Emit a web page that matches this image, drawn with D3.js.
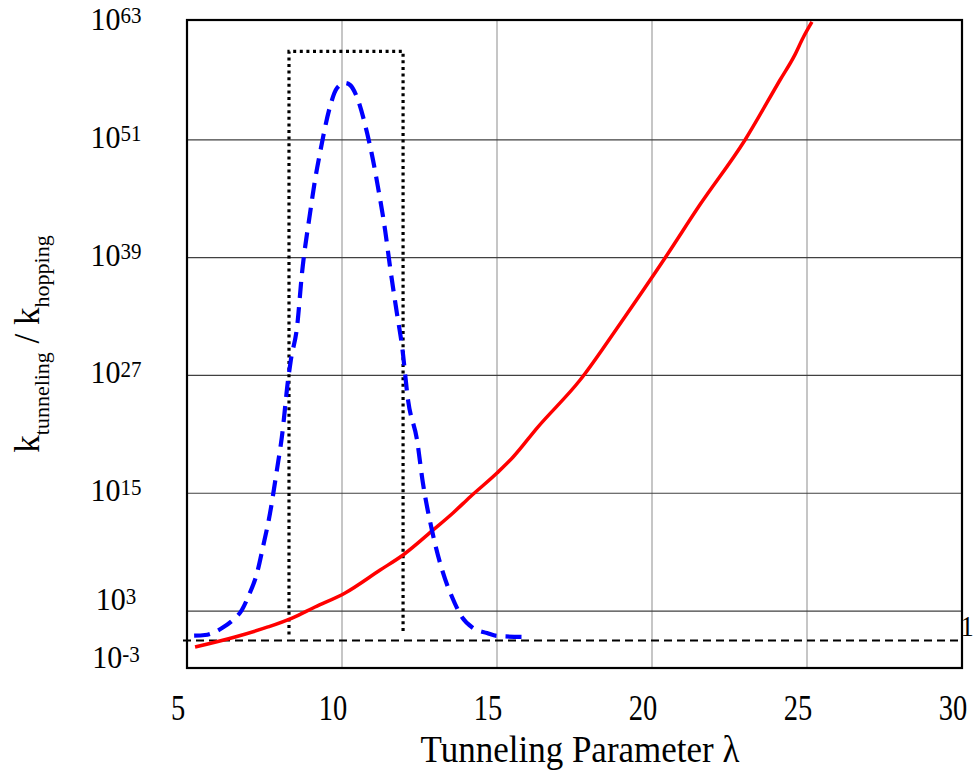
<!DOCTYPE html>
<html>
<head>
<meta charset="utf-8">
<script src="https://cdn.jsdelivr.net/npm/d3@7"></script>
<style>
  html, body { margin: 0; padding: 0; background: #fff; }
  svg { display: block; }
  text { font-family: "Liberation Serif", "Times New Roman", serif; fill: #000; }
</style>
</head>
<body>
<svg id="chart" width="974" height="772"></svg>
<script>
// Tunneling parameter axis ticks and log-axis exponents
const xTicks = [5, 10, 15, 20, 25, 30];
const xGrid = [10, 15, 20, 25];
const yTickExps = [-3, 3, 15, 27, 39, 51, 63];
const yGridExps = [3, 15, 27, 39, 51];

// Ratio curve (solid red): lambda and log10(k_tunneling / k_hopping)
const redLambda = [5.26, 6.55, 7.61, 8.39, 9.13, 10.10, 11.23, 11.97, 12.94, 13.58, 14.13, 15.00, 15.52, 16.29, 17.68, 19.00, 20.42, 21.55, 23.00, 24.13, 24.60, 24.87, 25.16];
const redLog    = [-0.66, 0.36, 1.38, 2.29, 3.41, 4.84, 7.18, 8.71, 11.26, 12.99, 14.62, 17.06, 18.69, 21.64, 26.53, 32.40, 38.96, 44.40, 50.98, 57.09, 59.60, 61.37, 63.00];

// Distribution curve (dashed blue): lambda and log10 value
const blueLambda = [5.23, 5.58, 6.13, 6.48, 6.77, 6.97, 7.26, 7.45, 7.68, 7.90, 8.06, 8.26, 8.35, 8.55, 8.71, 8.97, 9.13, 9.29, 9.39, 9.61, 9.84, 10.10, 10.26, 10.48, 10.81, 11.00, 11.16, 11.39, 11.55, 11.77, 11.94, 12.13, 12.42, 12.61, 12.90, 13.23, 13.55, 13.87, 14.23, 14.68, 15.00, 15.97];
const blueLog    = [0.49, 0.56, 1.27, 2.09, 3.11, 4.43, 6.88, 9.52, 12.99, 17.37, 20.73, 26.53, 28.57, 31.93, 37.43, 43.54, 46.90, 49.65, 51.28, 54.34, 56.27, 56.78, 56.58, 55.36, 51.69, 48.94, 46.19, 41.81, 38.04, 33.36, 29.90, 24.50, 20.42, 16.04, 11.26, 7.18, 4.43, 2.39, 1.27, 0.76, 0.46, 0.36];

// Dotted window: lambda range and log10 range
const windowLambda = [8.29, 11.97];
const windowLog = [0.6, 60.0];

// Reference level k_tunneling = k_hopping
const unityLevel = 1;

const svg = d3.select("#chart");
const plotL = 187, plotR = 962, plotT = 20, plotB = 668;

const x = d3.scaleLinear().domain([5, 30]).range([plotL, plotR]);
const y = d3.scaleLog().domain([Math.pow(10, -2.8), Math.pow(10, 63.2)]).range([plotB, plotT]);
const p = e => Math.pow(10, e);

// grid
svg.append("g").selectAll("line").data(xGrid).join("line")
  .attr("x1", d => x(d)).attr("x2", d => x(d))
  .attr("y1", plotT).attr("y2", plotB)
  .attr("stroke", "#a8a8a8").attr("stroke-width", 1.3);

svg.append("g").selectAll("line").data(yGridExps).join("line")
  .attr("x1", plotL).attr("x2", plotR)
  .attr("y1", d => y(p(d))).attr("y2", d => y(p(d)))
  .attr("stroke", "#404040").attr("stroke-width", 1.2);

// unity reference line
svg.append("line")
  .attr("x1", plotL - 4).attr("x2", plotR)
  .attr("y1", y(unityLevel)).attr("y2", y(unityLevel))
  .attr("stroke", "#000").attr("stroke-width", 2)
  .attr("stroke-dasharray", "8,5");

svg.append("text")
  .attr("transform", `translate(960.5,${y(unityLevel) - 5}) scale(1,1.15)`)
  .attr("text-anchor", "start")
  .attr("font-size", 26.5)
  .text("1");

// dotted window
const win = d3.path();
win.moveTo(x(windowLambda[0]), y(p(windowLog[0])));
win.lineTo(x(windowLambda[0]), y(p(windowLog[1])));
win.lineTo(x(windowLambda[1]), y(p(windowLog[1])));
win.lineTo(x(windowLambda[1]), y(p(windowLog[0])));
svg.append("path")
  .attr("d", win.toString())
  .attr("fill", "none").attr("stroke", "#000")
  .attr("stroke-width", 3.2).attr("stroke-dasharray", "3,3.6");

// curves
const line = d3.line()
  .x(d => x(d[0]))
  .y(d => y(p(d[1])))
  .curve(d3.curveMonotoneX);

svg.append("path")
  .attr("d", line(redLambda.map((l, i) => [l, redLog[i]])))
  .attr("fill", "none").attr("stroke", "#ff0000")
  .attr("stroke-width", 3.5).attr("stroke-linejoin", "round");

svg.append("path")
  .attr("d", line(blueLambda.map((l, i) => [l, blueLog[i]])))
  .attr("fill", "none").attr("stroke", "#0000ff")
  .attr("stroke-width", 4.2).attr("stroke-dasharray", "16,9");

// frame
svg.append("rect")
  .attr("x", plotL).attr("y", plotT)
  .attr("width", plotR - plotL).attr("height", plotB - plotT)
  .attr("fill", "none").attr("stroke", "#000").attr("stroke-width", 2.2);

// x tick labels
svg.append("g").selectAll("text").data(xTicks).join("text")
  .attr("transform", d => `translate(${x(d) - 9},720) scale(1,1.22)`)
  .attr("text-anchor", "middle")
  .attr("font-size", 28.5)
  .text(d => d);

// y tick labels, kept clear of one another near the bottom
let prev = Infinity;
const yLab = yTickExps.slice().sort((a, b) => a - b).map(e => {
  let b = Math.min(y(p(e)) + 8, plotB);
  if (b > prev - 58) b = prev - 58;
  prev = b;
  return { e, b };
});
const yt = svg.append("g").selectAll("text").data(yLab).join("text")
  .attr("transform", d => `translate(116,${d.b}) scale(1,1.08)`)
  .attr("text-anchor", "middle")
  .attr("font-size", 30);
yt.append("tspan").text("10");
yt.append("tspan").attr("font-size", 21).attr("dy", -6)
  .text(d => d.e < 0 ? "-" + Math.abs(d.e) : String(d.e));

// axis titles
svg.append("text")
  .attr("transform", "translate(580,762) scale(1,1.1)")
  .attr("text-anchor", "middle")
  .attr("font-size", 35)
  .text("Tunneling Parameter λ");

const yTitle = svg.append("text")
  .attr("transform", "translate(39,344) rotate(-90)")
  .attr("text-anchor", "middle")
  .attr("font-size", 35);
yTitle.append("tspan").text("k");
yTitle.append("tspan").attr("font-size", 22).attr("dy", 10).text("tunneling");
yTitle.append("tspan").attr("dy", -10).text(" / k");
yTitle.append("tspan").attr("font-size", 22).attr("dy", 10).text("hopping");
</script>
</body>
</html>
